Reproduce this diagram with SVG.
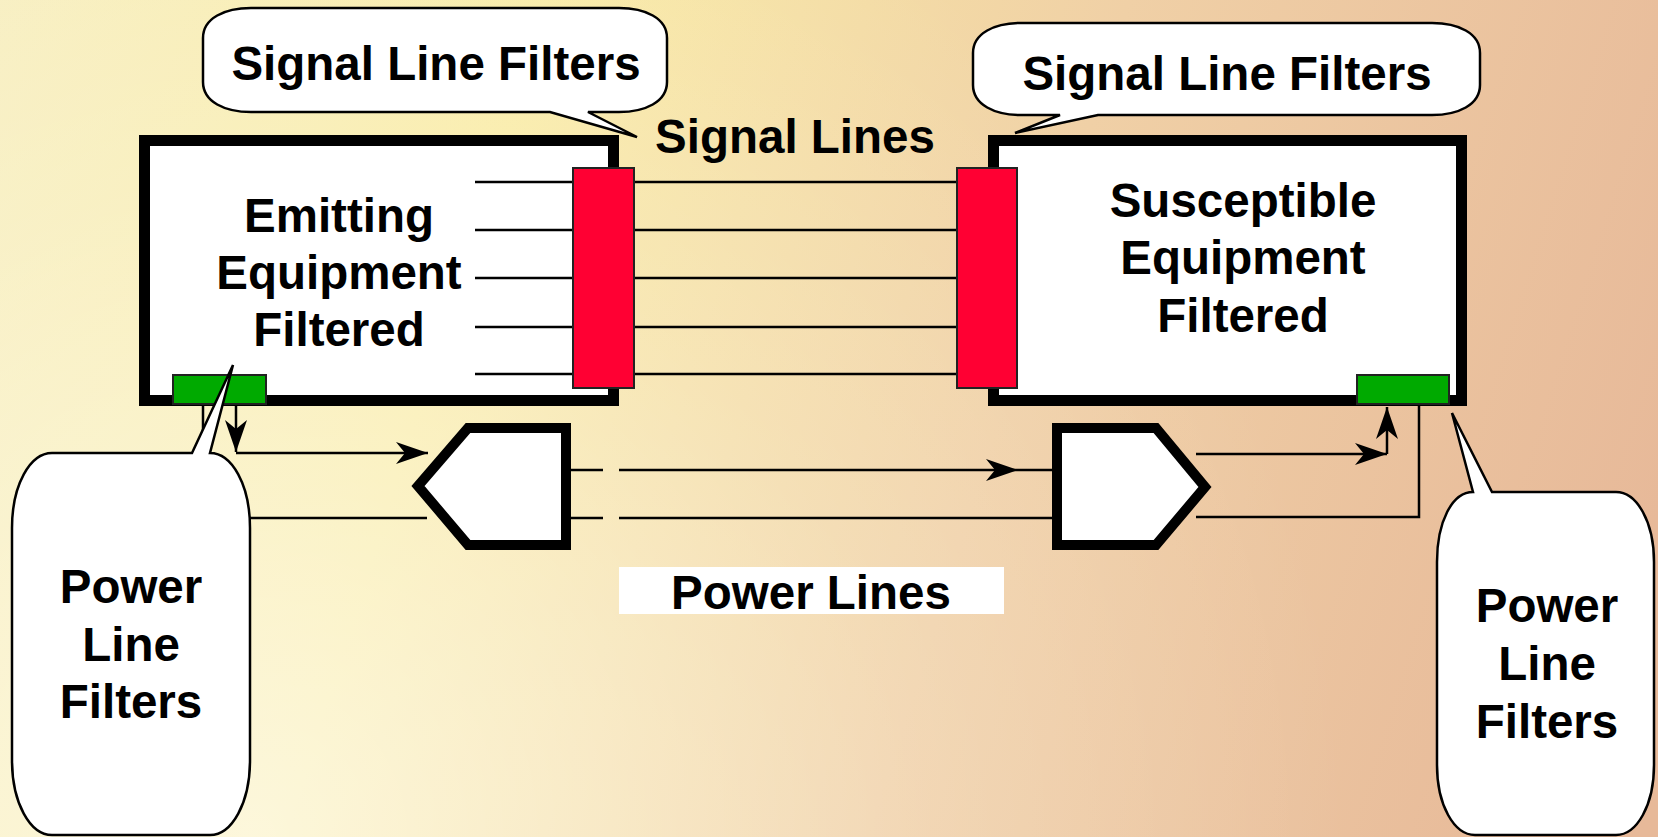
<svg xmlns="http://www.w3.org/2000/svg" width="1658" height="837" viewBox="0 0 1658 837">
<defs>
<linearGradient id="bg" x1="0" y1="0" x2="1658" y2="520" gradientUnits="userSpaceOnUse">
<stop offset="0" stop-color="#F7EEBE"/>
<stop offset="0.3" stop-color="#F9EBA4"/>
<stop offset="0.62" stop-color="#F0D0A6"/>
<stop offset="1" stop-color="#E7B999"/>
</linearGradient>
<radialGradient id="glow" cx="250" cy="837" r="1100" gradientUnits="userSpaceOnUse">
<stop offset="0" stop-color="#FFFFFF" stop-opacity="0.6"/>
<stop offset="0.6" stop-color="#FFFFFF" stop-opacity="0.18"/>
<stop offset="1" stop-color="#FFFFFF" stop-opacity="0"/>
</radialGradient>
<marker id="arr" markerUnits="userSpaceOnUse" markerWidth="34" markerHeight="24" refX="32" refY="11" orient="auto" overflow="visible">
<path d="M32,11 L0,0 L9,11 L0,22 Z" fill="#000"/>
</marker>
<style>
.t{font-family:"Liberation Sans",Arial,Helvetica,sans-serif;font-weight:bold;font-size:47.5px;fill:#000;text-anchor:middle}
.box{fill:#fff;stroke:#000;stroke-width:11}
.pent{fill:#fff;stroke:#000;stroke-width:10;stroke-linejoin:miter}
.red{fill:#FF0033;stroke:#222;stroke-width:2}
.green{fill:#00AA00;stroke:#222;stroke-width:2}
.ln{fill:none;stroke:#000;stroke-width:2.5}
.call{fill:#fff;stroke:#000;stroke-width:2.5;stroke-linejoin:miter}
</style>
</defs>
<rect x="0" y="0" width="1658" height="837" fill="url(#bg)"/>
<rect x="0" y="0" width="1658" height="837" fill="url(#glow)"/>

<g id="emitting-equipment">
<rect class="box" x="144.5" y="140.5" width="469" height="260"/>
<text class="t" x="339" y="232">Emitting</text>
<text class="t" x="339" y="289">Equipment</text>
<text class="t" x="339" y="346">Filtered</text>
</g>

<g id="susceptible-equipment">
<rect class="box" x="993.5" y="140.5" width="468" height="260"/>
<text class="t" x="1243" y="217">Susceptible</text>
<text class="t" x="1243" y="274">Equipment</text>
<text class="t" x="1243" y="332">Filtered</text>
</g>

<g id="connectors">
<path class="ln" d="M475,182 H957 M475,230 H957 M475,278 H957 M475,327 H957 M475,374 H957"/>
<path class="ln" d="M236,405 V452" marker-end="url(#arr)"/>
<path class="ln" d="M236,453 H428" marker-end="url(#arr)"/>
<path class="ln" d="M203,405 V518 H427"/>
<path class="ln" d="M571,470 H603 M571,518 H603 M619,518 H1052 M1018,470 H1052"/>
<path class="ln" d="M619,470 H1018" marker-end="url(#arr)"/>
<path class="ln" d="M1196,454 H1387" marker-end="url(#arr)"/>
<path class="ln" d="M1387,454 V407" marker-end="url(#arr)"/>
<path class="ln" d="M1196,517 H1419 V405"/>
</g>

<g id="signal-filter-left"><rect class="red" x="573" y="168" width="61" height="220"/></g>
<g id="signal-filter-right"><rect class="red" x="957" y="168" width="60" height="220"/></g>
<g id="power-filter-left"><rect class="green" x="173" y="375" width="93" height="29"/></g>
<g id="power-filter-right"><rect class="green" x="1357" y="375" width="92" height="29"/></g>

<g id="power-block-left"><polygon class="pent" points="418,486 468,428 566,428 566,545 468,545"/></g>
<g id="power-block-right"><polygon class="pent" points="1057,428 1156,428 1205,487 1156,545 1057,545"/></g>

<g id="label-signal-lines"><text class="t" x="795" y="153">Signal Lines</text></g>
<g id="label-power-lines">
<rect x="619" y="567" width="385" height="47" fill="#fff"/>
<text class="t" x="811" y="609">Power Lines</text>
</g>

<g id="callout-signal-left">
<path class="call" d="M251,8 H619 C645,8 667,18 667,38 V82 C667,102 645,112 619,112 H588 L637,137 L550,112 H251 C225,112 203,102 203,82 V38 C203,18 225,8 251,8 Z"/>
<text class="t" x="436" y="80">Signal Line Filters</text>
</g>
<g id="callout-signal-right">
<path class="call" d="M1021,23 H1432 C1458,23 1480,33 1480,53 V85 C1480,105 1458,115 1432,115 H1098 L1015,133 L1060,115 H1021 C995,115 973,105 973,85 V53 C973,33 995,23 1021,23 Z"/>
<text class="t" x="1227" y="90">Signal Line Filters</text>
</g>
<g id="callout-power-left">
<path class="call" d="M52,453 H192 L233,365 L210,453 C232,453 250,485 250,528 V760 C250,803 232,835 210,835 H52 C30,835 12,803 12,760 V528 C12,485 30,453 52,453 Z"/>
<text class="t" x="131" y="603">Power</text>
<text class="t" x="131" y="661">Line</text>
<text class="t" x="131" y="718">Filters</text>
</g>
<g id="callout-power-right">
<path class="call" d="M1473,492 L1452,413 L1492,492 H1616 C1637,492 1654,522 1654,562 V765 C1654,805 1637,835 1616,835 H1475 C1454,835 1437,805 1437,765 V562 C1437,522 1452,492 1473,492 Z"/>
<text class="t" x="1547" y="622">Power</text>
<text class="t" x="1547" y="680">Line</text>
<text class="t" x="1547" y="738">Filters</text>
</g>
</svg>
